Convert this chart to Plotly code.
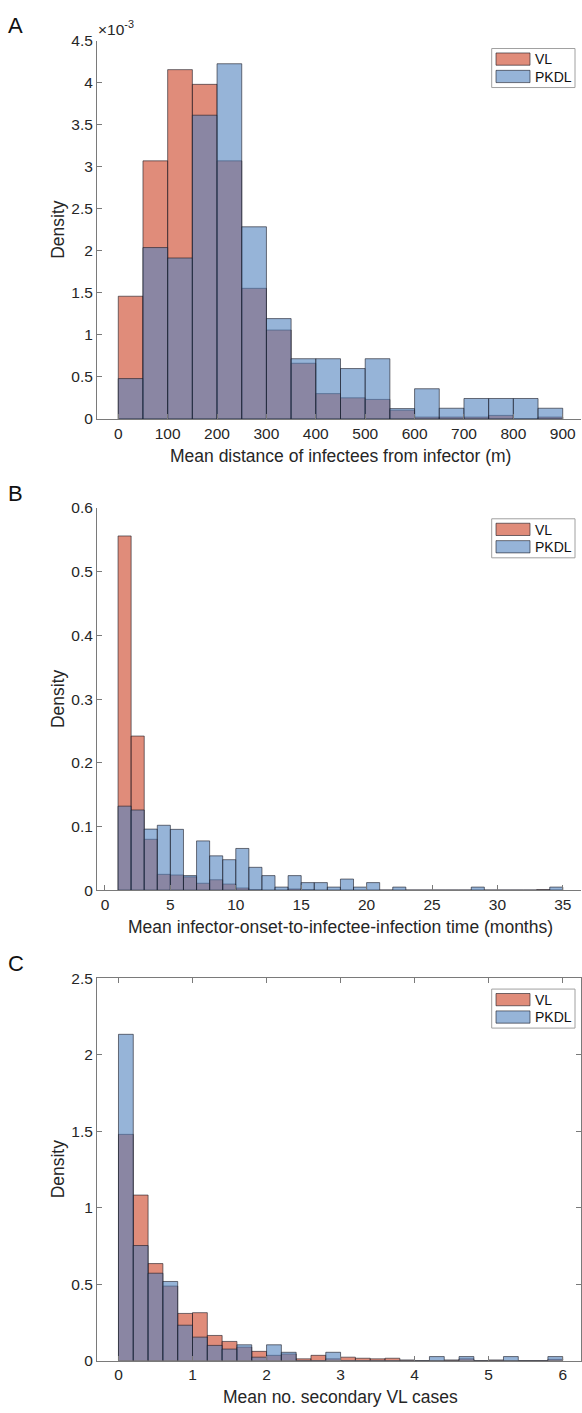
import plotly.graph_objects as go

# ---------------- data ----------------
# Panel A: mean distance of infectees from infector (m), bins of 50 m
dist_edges = [0, 50, 100, 150, 200, 250, 300, 350, 400, 450, 500, 550, 600, 650, 700, 750, 800, 850, 900]
dist_vl = [1.46e-3, 3.07e-3, 4.155e-3, 3.98e-3, 3.07e-3, 1.554e-3, 1.058e-3, 0.663e-3, 0.302e-3,
           0.252e-3, 0.233e-3, 0.105e-3, 0.023e-3, 0.023e-3, 0.023e-3, 0.043e-3, 0.0, 0.023e-3]
dist_pkdl = [0.481e-3, 2.039e-3, 1.915e-3, 3.613e-3, 4.225e-3, 2.286e-3, 1.194e-3, 0.717e-3, 0.717e-3,
             0.60e-3, 0.717e-3, 0.124e-3, 0.36e-3, 0.128e-3, 0.244e-3, 0.244e-3, 0.244e-3, 0.128e-3]
dist_yticks = [0, 0.5e-3, 1e-3, 1.5e-3, 2e-3, 2.5e-3, 3e-3, 3.5e-3, 4e-3, 4.5e-3]
dist_yticktext = ["0", "0.5", "1", "1.5", "2", "2.5", "3", "3.5", "4", "4.5"]

# Panel B: mean infector-onset-to-infectee-infection time (months), bins of 1 month from 1 to 35
time_edges = list(range(1, 36))
time_vl = [0.556, 0.242, 0.080, 0.025, 0.024, 0.021, 0.011, 0.0165, 0.0098, 0.0036, 0.001, 0, 0, 0.002,
           0.001, 0, 0, 0, 0, 0, 0, 0, 0, 0, 0, 0, 0, 0, 0, 0, 0, 0, 0.001, 0]
time_pkdl = [0.132, 0.126, 0.096, 0.102, 0.0956, 0.023, 0.0775, 0.054, 0.048, 0.0656, 0.036, 0.023,
             0.005, 0.023, 0.012, 0.012, 0.005, 0.0176, 0.005, 0.012, 0, 0.005, 0, 0, 0, 0, 0, 0.005,
             0, 0, 0, 0, 0, 0.005]
time_yticks = [0, 0.1, 0.2, 0.3, 0.4, 0.5, 0.6]
time_yticktext = ["0", "0.1", "0.2", "0.3", "0.4", "0.5", "0.6"]

# Panel C: mean no. secondary VL cases, bins of 0.2
sec_edges = [0, 0.2, 0.4, 0.6, 0.8, 1.0, 1.2, 1.4, 1.6, 1.8, 2.0, 2.2, 2.4, 2.6, 2.8, 3.0, 3.2, 3.4, 3.6,
             3.8, 4.0, 4.2, 4.4, 4.6, 4.8, 5.0, 5.2, 5.4, 5.6, 5.8, 6.0]
sec_vl = [1.479, 1.082, 0.634, 0.487, 0.308, 0.313, 0.164, 0.125, 0.088, 0.060, 0.034, 0.043, 0.011,
          0.034, 0.011, 0.022, 0.015, 0.011, 0.015, 0.004, 0, 0, 0.004, 0.011, 0, 0.004, 0, 0, 0, 0.008]
sec_pkdl = [2.133, 0.752, 0.571, 0.517, 0.231, 0.153, 0.099, 0.075, 0.103, 0.022, 0.103, 0.054, 0, 0,
            0.054, 0, 0, 0, 0, 0, 0, 0.026, 0, 0.026, 0, 0, 0.026, 0, 0, 0.026]
sec_yticks = [0, 0.5, 1, 1.5, 2, 2.5]
sec_yticktext = ["0", "0.5", "1", "1.5", "2", "2.5"]

series_names = ["VL", "PKDL"]
x_titles = ["Mean distance of infectees from infector (m)",
            "Mean infector-onset-to-infectee-infection time (months)",
            "Mean no. secondary VL cases"]
panel_letters = ["A", "B", "C"]

# ---------------- style ----------------
W, H = 582, 1413
FONT = "Liberation Sans, Arial, Helvetica, sans-serif"
TXT = "#262626"
AX = "#7a7a7a"
VL_FILL = "rgba(203,63,33,0.6)"
PK_FILL = "rgba(80,130,190,0.6)"
EDGE = "rgba(25,25,35,0.75)"
TICK_FS = 15.5
TITLE_FS = 17.5
LEG_FS = 14


def px_x(x):
    return x / W


def px_y(y):
    return 1 - y / H


# plot-area pixel geometry
panels = [
    dict(top=32, bottom=415, xr=[-43.1, 937], yr=[0, 4.5e-3], xt=list(range(0, 901, 100))),
    dict(top=505, bottom=892, xr=[-0.61, 36.39], yr=[0, 0.6], xt=list(range(0, 36, 5))),
    dict(top=981, bottom=1368, xr=[-0.29, 6.247], yr=[0, 2.5], xt=list(range(0, 7))),
]
LEFT, RIGHT = 97, 581

fig = go.Figure()

datasets = [
    (dist_edges, dist_vl, dist_pkdl, dist_yticks, dist_yticktext),
    (time_edges, time_vl, time_pkdl, time_yticks, time_yticktext),
    (sec_edges, sec_vl, sec_pkdl, sec_yticks, sec_yticktext),
]

shapes = []
annotations = []

for i, (edges, vl, pk, ytv, ytt) in enumerate(datasets):
    sfx = "" if i == 0 else str(i + 1)
    centers = [(edges[k] + edges[k + 1]) / 2 for k in range(len(edges) - 1)]
    widths = [edges[k + 1] - edges[k] for k in range(len(edges) - 1)]
    for name, vals, fill in ((series_names[0], vl, VL_FILL), (series_names[1], pk, PK_FILL)):
        fig.add_trace(go.Bar(
            x=centers, y=vals, width=widths, name=name, showlegend=False,
            marker=dict(color=fill, line=dict(color=EDGE, width=0.8)),
            xaxis="x" + sfx, yaxis="y" + sfx,
        ))
    p = panels[i]
    boxed = (i == 2)
    xax = dict(
        domain=[px_x(LEFT), px_x(RIGHT)], range=p["xr"], anchor="y" + sfx,
        tickmode="array", tickvals=p["xt"], ticks="inside", ticklen=5, tickwidth=1,
        tickcolor=AX, showline=True, linecolor=AX, linewidth=1,
        mirror="ticks" if boxed else False, showgrid=False, zeroline=False,
        tickfont=dict(family=FONT, size=TICK_FS, color=TXT), fixedrange=True,
        ticklabeloverflow="allow",
    )
    yax = dict(
        domain=[px_y(p["bottom"]), px_y(p["top"])], range=p["yr"], anchor="x" + sfx,
        tickmode="array", tickvals=ytv, ticktext=ytt, ticks="inside", ticklen=5, tickwidth=1,
        tickcolor=AX, showline=True, linecolor=AX, linewidth=1,
        mirror="ticks" if boxed else False, showgrid=False, zeroline=False,
        tickfont=dict(family=FONT, size=TICK_FS, color=TXT), fixedrange=True,
        ticklabeloverflow="allow",
    )
    fig.update_layout(**{"xaxis" + sfx: xax, "yaxis" + sfx: yax})

    # axis titles
    annotations.append(dict(
        text=x_titles[i], x=px_x(340), y=px_y(p["bottom"] + 37),
        xref="paper", yref="paper", showarrow=False, xanchor="center", yanchor="middle",
        font=dict(family=FONT, size=TITLE_FS, color=TXT)))
    annotations.append(dict(
        text="Density", x=px_x(58), y=px_y((p["top"] + p["bottom"]) / 2),
        xref="paper", yref="paper", showarrow=False, xanchor="center", yanchor="middle",
        textangle=-90, font=dict(family=FONT, size=TITLE_FS, color=TXT)))
    # panel letter
    annotations.append(dict(
        text=panel_letters[i], x=px_x(6), y=px_y(p["top"] - 15),
        xref="paper", yref="paper", showarrow=False, xanchor="left", yanchor="middle",
        font=dict(family=FONT, size=22, color="#111111")))

    # manual legend (MATLAB style)
    ltop = p["top"] + (8 if i == 0 else 11)
    shapes.append(dict(type="rect", xref="paper", yref="paper",
                       x0=px_x(491.7), x1=px_x(575), y0=px_y(ltop), y1=px_y(ltop + 39.5),
                       line=dict(color="#a0a0a0", width=1), fillcolor="white"))
    for j, fill in enumerate((VL_FILL, PK_FILL)):
        sy0 = ltop + 4.5 + j * 17.6
        shapes.append(dict(type="rect", xref="paper", yref="paper",
                           x0=px_x(496), x1=px_x(530), y0=px_y(sy0), y1=px_y(sy0 + 12.4),
                           line=dict(color=EDGE, width=0.8), fillcolor=fill))
        annotations.append(dict(
            text=series_names[j], x=px_x(532.5), y=px_y(sy0 + 6.5),
            xref="paper", yref="paper", showarrow=False, xanchor="left", yanchor="middle",
            font=dict(family=FONT, size=LEG_FS, color="#111111")))

# exponent label for panel A
annotations.append(dict(
    text="×10<sup>-3</sup>", x=px_x(96), y=px_y(19),
    xref="paper", yref="paper", showarrow=False, xanchor="left", yanchor="middle",
    font=dict(family=FONT, size=TICK_FS, color=TXT)))

fig.update_layout(
    width=W, height=H, margin=dict(l=0, r=0, t=0, b=0),
    paper_bgcolor="white", plot_bgcolor="white",
    barmode="overlay", bargap=0,
    shapes=shapes, annotations=annotations,
    font=dict(family=FONT, color=TXT),
)

fig.write_html(
    "out.html",
    config={"displayModeBar": False, "staticPlot": True},
    post_script="document.body.style.margin='0';document.body.style.overflow='hidden';",
)
